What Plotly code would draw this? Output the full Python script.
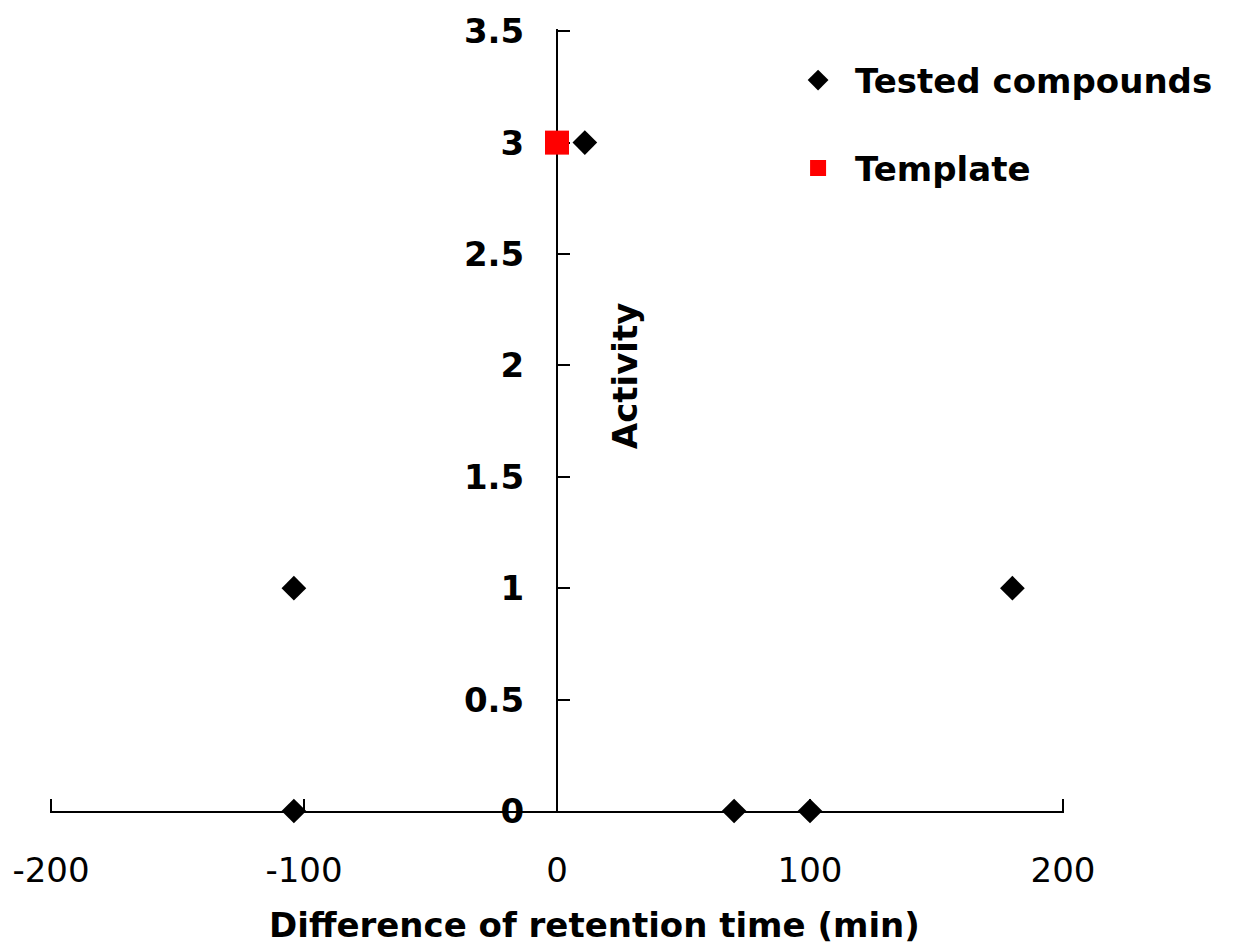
import plotly.graph_objects as go

# Data
tested_x = [-104, -104, 11, 70, 100, 180]
tested_y = [1, 0, 3, 0, 0, 1]
template_x = [0]
template_y = [3]

x_ticks = [-200, -100, 0, 100, 200]
x_tick_text = ["-200", "-100", "0", "100", "200"]
y_ticks = [0, 0.5, 1, 1.5, 2, 2.5, 3, 3.5]
y_tick_text = ["0", "0.5", "1", "1.5", "2", "2.5", "3", "3.5"]

W, H = 1235, 945
L, R, T, B = 49.7, W - 1064, 28.5, H - 811.5
pw = W - L - R
ph = H - T - B

FONT = "DejaVu Sans"


def px_x(p):
    return (p - L) / pw


def px_y(p):
    return (H - B - p) / ph


fig = go.Figure()
fig.add_trace(go.Scatter(
    x=tested_x, y=tested_y, mode="markers", name="\u2002Tested compounds",
    marker=dict(symbol="diamond", size=19, color="black", line=dict(width=0)),
    cliponaxis=False, legend="legend",
))
fig.add_trace(go.Scatter(
    x=template_x, y=template_y, mode="markers", name="\u2002Template",
    marker=dict(symbol="square", size=24, color="#ff0000", line=dict(width=0)),
    cliponaxis=False, legend="legend2",
))

legend_common = dict(
    xref="paper", yref="paper", xanchor="left", yanchor="middle",
    font=dict(family=FONT, size=34, color="black", weight="bold"),
    bgcolor="rgba(0,0,0,0)", borderwidth=0, itemsizing="trace",
)

fig.update_layout(
    width=W, height=H,
    margin=dict(l=L, r=R, t=T, b=B, pad=0, autoexpand=False),
    paper_bgcolor="white", plot_bgcolor="white",
    showlegend=True,
    legend=dict(x=px_x(798), y=px_y(80), **legend_common),
    legend2=dict(x=px_x(798), y=px_y(168), **legend_common),
    xaxis=dict(
        range=[-200.4, 200.4], tickvals=x_ticks, ticktext=x_tick_text,
        showgrid=False, zeroline=False, showline=True, linecolor="black", linewidth=2,
        ticks="inside", ticklen=12, tickwidth=2, tickcolor="black",
        tickfont=dict(family=FONT, size=34, color="black"),
        ticklabelstandoff=28, layer="below traces", fixedrange=True, automargin=False,
    ),
    yaxis=dict(
        range=[0, 3.51], tickvals=y_ticks, ticktext=y_tick_text,
        anchor="free", position=0.5,
        showgrid=False, zeroline=False, showline=True, linecolor="black", linewidth=2,
        ticks="inside", ticklen=12, tickwidth=2, tickcolor="black",
        tickfont=dict(family=FONT, size=34, color="black", weight="bold"),
        ticklabelstandoff=25, layer="below traces", fixedrange=True, automargin=False,
    ),
    annotations=[
        dict(text="Difference of retention time (min)", xref="paper", yref="paper",
             x=px_x(594), y=px_y(926), xanchor="center", yanchor="middle",
             showarrow=False, font=dict(family=FONT, size=34, color="black", weight="bold")),
        dict(text="Activity", xref="paper", yref="paper", textangle=-90,
             x=px_x(625), y=px_y(376), xanchor="center", yanchor="middle",
             showarrow=False, font=dict(family=FONT, size=34, color="black", weight="bold")),
    ],
)

fig.write_html("out.html", config={"displayModeBar": False},
               post_script="document.body.style.margin='0px';")
